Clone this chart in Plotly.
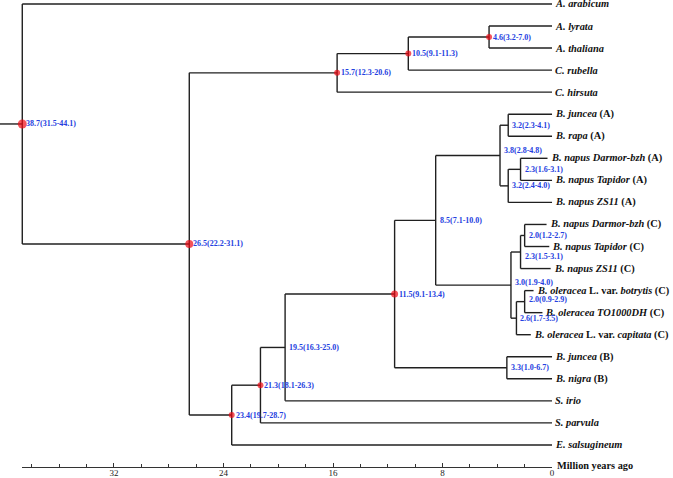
import plotly.graph_objects as go

# ---------------- data ----------------
tip_names = ["A. arabicum", "A. lyrata", "A. thaliana", "C. rubella", "C. hirsuta",
             "B. juncea (A)", "B. rapa (A)", "B. napus Darmor-bzh (A)", "B. napus Tapidor (A)",
             "B. napus ZS11 (A)", "B. napus Darmor-bzh (C)", "B. napus Tapidor (C)",
             "B. napus ZS11 (C)", "B. oleracea L. var. botrytis (C)", "B. oleracea TO1000DH (C)",
             "B. oleracea L. var. capitata (C)", "B. juncea (B)", "B. nigra (B)",
             "S. irio", "S. parvula", "E. salsugineum"]
tip_labels = ["<i>A. arabicum</i>", "<i>A. lyrata</i>", "<i>A. thaliana</i>", "<i>C. rubella</i>",
              "<i>C. hirsuta</i>", "<i>B. juncea</i> (A)", "<i>B. rapa</i> (A)",
              "<i>B. napus Darmor-bzh</i> (A)", "<i>B. napus Tapidor</i> (A)", "<i>B. napus ZS11</i> (A)",
              "<i>B. napus Darmor-bzh</i> (C)", "<i>B. napus Tapidor</i> (C)", "<i>B. napus ZS11</i> (C)",
              "<i>B. oleracea</i> L. var. <i>botrytis</i> (C)", "<i>B. oleracea TO1000DH</i> (C)",
              "<i>B. oleracea</i> L. var. <i>capitata</i> (C)", "<i>B. juncea</i> (B)", "<i>B. nigra</i> (B)",
              "<i>S. irio</i>", "<i>S. parvula</i>", "<i>E. salsugineum</i>"]
tip_end_age = [0, 0, 0, 0, 0, 0, 0, 0.33, 0, 0, 0.4, 0.2, 0.1, 1.35, 0.7, 1.55, 0, 0, 0, 0, 0]

node_keys = ["root", "n26.5", "n15.7", "n10.5", "n4.6", "n23.4", "n21.3", "n19.5", "n11.5",
             "n3.3", "n8.5", "n3.8", "n3.2a", "n3.2b", "n2.3a", "n3.0", "n2.3c", "n2.0c",
             "n2.6", "n2.0d"]
node_ages = [38.7, 26.5, 15.7, 10.5, 4.6, 23.4, 21.3, 19.5, 11.5,
             3.3, 8.5, 3.8, 3.2, 3.2, 2.3, 3.0, 2.3, 2.0, 2.6, 2.0]
node_lo = [31.5, 22.2, 12.3, 9.1, 3.2, 19.7, 18.1, 16.3, 9.1,
           1.0, 7.1, 2.8, 2.3, 2.4, 1.6, 1.9, 1.5, 1.2, 1.7, 0.9]
node_hi = [44.1, 31.1, 20.6, 11.3, 7.0, 28.7, 26.3, 25.0, 13.4,
           6.7, 10.0, 4.8, 4.1, 4.0, 3.1, 4.0, 3.1, 2.7, 3.5, 2.9]
node_left = ["A. arabicum", "n15.7", "n10.5", "n4.6", "A. lyrata", "n21.3", "n19.5", "n11.5", "n8.5",
             "B. juncea (B)", "n3.8", "n3.2a", "B. juncea (A)", "n2.3a", "B. napus Darmor-bzh (A)",
             "n2.3c", "n2.0c", "B. napus Darmor-bzh (C)", "n2.0d", "B. oleracea L. var. botrytis (C)"]
node_right = ["n26.5", "n23.4", "C. hirsuta", "C. rubella", "A. thaliana", "E. salsugineum",
              "S. parvula", "S. irio", "n3.3", "B. nigra (B)", "n3.0", "n3.2b", "B. rapa (A)",
              "B. napus ZS11 (A)", "B. napus Tapidor (A)", "n2.6", "B. napus ZS11 (C)",
              "B. napus Tapidor (C)", "B. oleracea L. var. capitata (C)", "B. oleracea TO1000DH (C)"]
node_dot_size = [9, 8, 6, 6, 6, 6, 6, 0, 7, 0, 0, 0, 0, 0, 0, 0, 0, 0, 0, 0]
root_stem = 1.7

axis_title = "Million years ago"

# style: small vertical nudges of a few node labels (pixels, + = up)
label_nudge = {"n3.8": 5, "n2.3c": -4, "n2.0d": 2, "n3.0": 3}

# ---------------- layout computation ----------------
pos = {}  # key -> (age, y)
for i, t in enumerate(tip_names):
    pos[t] = (tip_end_age[i], float(i))
idx = {k: i for i, k in enumerate(node_keys)}


def place(key):
    if key in pos:
        return pos[key]
    i = idx[key]
    _, y1 = place(node_left[i])
    _, y2 = place(node_right[i])
    pos[key] = (node_ages[i], (y1 + y2) / 2)
    return pos[key]


for k in node_keys:
    place(k)

ex, ey = [], []
for i, k in enumerate(node_keys):
    x0, y0 = pos[k]
    c1 = pos[node_left[i]]
    c2 = pos[node_right[i]]
    ex += [x0, x0, None]
    ey += [c1[1], c2[1], None]
    for c in (c1, c2):
        ex += [x0, c[0], None]
        ey += [c[1], c[1], None]
rx, ry = pos["root"]
ex += [rx + root_stem, rx, None]
ey += [ry, ry, None]

fig = go.Figure()
# invisible trace to register the scale axis
fig.add_trace(go.Scatter(x=[node_ages[0], 0], y=[len(tip_names), len(tip_names)], mode="lines",
                         line=dict(width=0), xaxis="x2", yaxis="y", hoverinfo="skip",
                         showlegend=False))
fig.add_trace(go.Scatter(x=ex, y=ey, mode="lines", line=dict(color="#202020", width=1.4),
                         hoverinfo="skip", showlegend=False))

dx = [pos[k][0] for i, k in enumerate(node_keys) if node_dot_size[i] > 0]
dy = [pos[k][1] for i, k in enumerate(node_keys) if node_dot_size[i] > 0]
ds = [s for s in node_dot_size if s > 0]
fig.add_trace(go.Scatter(x=dx, y=dy, mode="markers",
                         marker=dict(color="#f00a14", size=ds, line=dict(width=0)),
                         hoverinfo="skip", showlegend=False))

ann = []
for i, t in enumerate(tip_names):
    ann.append(dict(x=pos[t][0], y=pos[t][1], xref="x", yref="y", text="<b>" + tip_labels[i] + "</b>",
                    showarrow=False, xanchor="left", yanchor="middle", xshift=1,
                    font=dict(family="Liberation Serif", size=10.4, color="#111111")))
for i, k in enumerate(node_keys):
    x0, y0 = pos[k]
    txt = f"{node_ages[i]:.1f}({node_lo[i]:.1f}-{node_hi[i]:.1f})"
    ann.append(dict(x=x0, y=y0, xref="x", yref="y", text="<b>" + txt + "</b>",
                    showarrow=False, xanchor="left", yanchor="middle", xshift=2,
                    yshift=label_nudge.get(k, 0),
                    font=dict(family="Liberation Serif", size=8, color="#2340e0")))
ann.append(dict(x=-0.2, y=len(tip_names) - 0.05, xref="x", yref="y", text="<b>" + axis_title + "</b>",
                showarrow=False, xanchor="left", yanchor="middle",
                font=dict(family="Liberation Serif", size=10.3, color="#111111")))

W, H = 673, 478
px_per_myr = 13.75
zero_px = 554.5
left_myr = zero_px / px_per_myr
right_myr = -(W - zero_px) / px_per_myr
root_px = zero_px - node_ages[0] * px_per_myr

fig.update_layout(
    width=W, height=H, margin=dict(l=0, r=0, t=0, b=11),
    paper_bgcolor="white", plot_bgcolor="rgba(0,0,0,0)",
    xaxis=dict(domain=[0, 1], range=[left_myr, right_myr], visible=False),
    xaxis2=dict(domain=[root_px / W, zero_px / W], range=[node_ages[0], 0], anchor="y",
                showline=True, linecolor="#333333", linewidth=1, showgrid=False, zeroline=False,
                ticks="inside", ticklen=4, tickwidth=1, tickcolor="#333333", tick0=0, dtick=8,
                ticklabelstandoff=-3,
                minor=dict(dtick=2, ticks="inside", ticklen=3, tickcolor="#333333", showgrid=False),
                tickfont=dict(family="Liberation Serif", size=9, color="#222222")),
    yaxis=dict(domain=[0, 1], range=[len(tip_names), -0.18], visible=False),
    annotations=ann,
)

fig.write_html("out.html", config={"displayModeBar": False},
               post_script="document.body.style.margin='0px';")
